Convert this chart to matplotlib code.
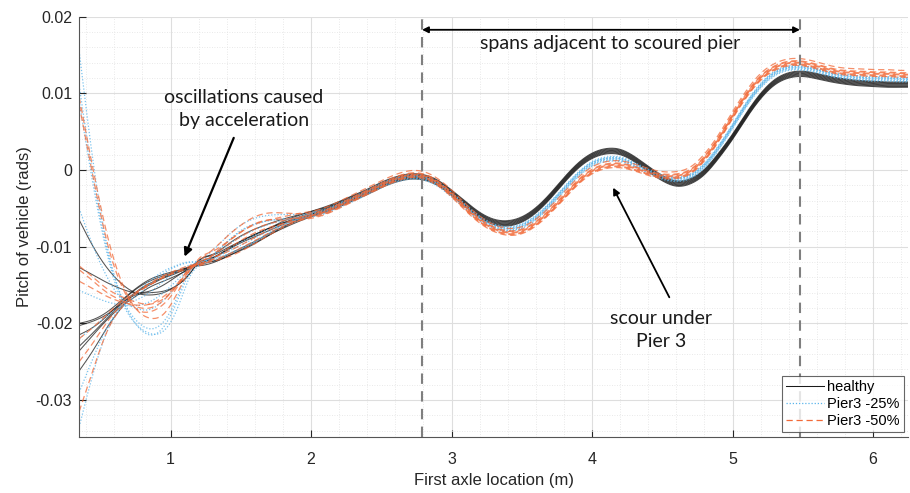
import numpy as np
import matplotlib
matplotlib.use("Agg")
import matplotlib.pyplot as plt
from matplotlib.ticker import MultipleLocator

# knot positions (m)
x_start = [0.35, 0.45, 0.55, 0.65, 0.75, 0.85, 0.95, 1.05, 1.15]
x_main = list(np.round(np.arange(1.2, 6.21, 0.1), 2)) + [6.25]
n_mid = 9  # knots 1.3 .. 2.1 where the runs still drift apart a little

# mean response along the bridge
healthy_main = [-0.0122, -0.0116, -0.0107, -0.0097, -0.0088, -0.0079, -0.0071, -0.0064,
                -0.0058, -0.0052, -0.0045, -0.0037, -0.0029, -0.0020, -0.0013, -0.0009,
                -0.0010, -0.0017, -0.0030, -0.0045, -0.0059, -0.0068, -0.0070, -0.0065,
                -0.0053, -0.0035, -0.0014, 0.0005, 0.0018, 0.0024, 0.0023, 0.0014,
                0.0001, -0.0011, -0.0018, -0.0015, -0.0003, 0.0018, 0.0043, 0.0071,
                0.0096, 0.0114, 0.0123, 0.0125, 0.0122, 0.0118, 0.0115, 0.0113,
                0.0112, 0.0111, 0.0111, 0.0111]
pier25_main = [-0.0122, -0.0115, -0.0105, -0.0095, -0.0086, -0.0077, -0.0070, -0.0064,
               -0.0059, -0.0054, -0.0046, -0.0038, -0.0029, -0.0020, -0.0013, -0.0009,
               -0.0010, -0.0018, -0.0032, -0.0048, -0.0063, -0.0073, -0.0077, -0.0073,
               -0.0062, -0.0045, -0.0025, -0.0006, 0.0008, 0.0014, 0.0014, 0.0007,
               -0.0002, -0.0009, -0.0012, -0.0008, 0.0006, 0.0029, 0.0057, 0.0086,
               0.0110, 0.0126, 0.0133, 0.0133, 0.0130, 0.0125, 0.0122, 0.0120,
               0.0119, 0.0119, 0.0118, 0.0118]
pier50_main = [-0.0122, -0.0114, -0.0104, -0.0093, -0.0083, -0.0075, -0.0069, -0.0064,
               -0.0060, -0.0055, -0.0047, -0.0038, -0.0029, -0.0020, -0.0012, -0.0007,
               -0.0008, -0.0017, -0.0032, -0.0050, -0.0066, -0.0077, -0.0082, -0.0080,
               -0.0070, -0.0054, -0.0035, -0.0016, -0.0002, 0.0005, 0.0006, 0.0002,
               -0.0004, -0.0008, -0.0008, -0.0002, 0.0015, 0.0040, 0.0070, 0.0098,
               0.0120, 0.0133, 0.0139, 0.0139, 0.0135, 0.0130, 0.0127, 0.0126,
               0.0125, 0.0125, 0.0124, 0.0124]

# start of each run (vehicle still accelerating)
healthy_start = [
    [-0.0065, -0.0100, -0.0128, -0.0148, -0.0160, -0.0163, -0.0160, -0.0150, -0.0132],
    [-0.0127, -0.0137, -0.0147, -0.0155, -0.0160, -0.0158, -0.0150, -0.0138, -0.0127],
    [-0.0200, -0.0195, -0.0185, -0.0170, -0.0155, -0.0143, -0.0136, -0.0131, -0.0125],
    [-0.0203, -0.0197, -0.0188, -0.0174, -0.0160, -0.0150, -0.0141, -0.0134, -0.0126],
    [-0.0215, -0.0205, -0.0190, -0.0172, -0.0156, -0.0145, -0.0138, -0.0132, -0.0125],
    [-0.0230, -0.0212, -0.0193, -0.0175, -0.0163, -0.0160, -0.0158, -0.0150, -0.0132],
    [-0.0236, -0.0215, -0.0195, -0.0178, -0.0165, -0.0153, -0.0145, -0.0137, -0.0128],
    [-0.0262, -0.0235, -0.0205, -0.0180, -0.0160, -0.0148, -0.0140, -0.0133, -0.0126],
]
pier25_start = [
    [0.0155, 0.0010, -0.0100, -0.0165, -0.0200, -0.0215, -0.0205, -0.0170, -0.0130],
    [0.0110, -0.0010, -0.0105, -0.0165, -0.0195, -0.0207, -0.0198, -0.0165, -0.0128],
    [-0.0050, -0.0100, -0.0140, -0.0168, -0.0180, -0.0182, -0.0170, -0.0148, -0.0127],
    [-0.0157, -0.0165, -0.0172, -0.0176, -0.0177, -0.0172, -0.0160, -0.0143, -0.0127],
    [-0.0335, -0.0265, -0.0210, -0.0180, -0.0165, -0.0150, -0.0135, -0.0125, -0.0120],
    [-0.0290, -0.0245, -0.0205, -0.0178, -0.0160, -0.0145, -0.0132, -0.0124, -0.0120],
    [0.0090, -0.0020, -0.0110, -0.0170, -0.0200, -0.0213, -0.0210, -0.0180, -0.0135],
    [-0.0220, -0.0205, -0.0190, -0.0178, -0.0170, -0.0160, -0.0145, -0.0132, -0.0123],
]
pier50_start = [
    [0.0095, 0.0000, -0.0085, -0.0145, -0.0180, -0.0193, -0.0188, -0.0160, -0.0128],
    [0.0085, -0.0010, -0.0095, -0.0150, -0.0180, -0.0185, -0.0175, -0.0152, -0.0126],
    [-0.0125, -0.0140, -0.0155, -0.0165, -0.0172, -0.0175, -0.0168, -0.0150, -0.0128],
    [-0.0145, -0.0155, -0.0165, -0.0172, -0.0176, -0.0175, -0.0165, -0.0148, -0.0127],
    [-0.0220, -0.0205, -0.0188, -0.0172, -0.0160, -0.0150, -0.0140, -0.0133, -0.0126],
    [-0.0250, -0.0225, -0.0198, -0.0176, -0.0160, -0.0148, -0.0138, -0.0130, -0.0124],
    [-0.0315, -0.0260, -0.0210, -0.0180, -0.0162, -0.0150, -0.0140, -0.0132, -0.0125],
    [-0.0130, -0.0145, -0.0160, -0.0170, -0.0178, -0.0180, -0.0170, -0.0150, -0.0128],
]

# drift of each run from the mean between 1.3 m and 2.1 m
healthy_mid = [
    [0.0003, 0.0006, 0.0008, 0.0008, 0.0006, 0.0004, 0.0002, 0.0001, 0.0],
    [0.0002, 0.0004, 0.0005, 0.0005, 0.0004, 0.0003, 0.0001, 0.0, 0.0],
    [0.0, 0.0001, 0.0002, 0.0002, 0.0001, 0.0, 0.0, 0.0, 0.0],
    [-0.0002, -0.0003, -0.0004, -0.0004, -0.0003, -0.0002, -0.0001, 0.0, 0.0],
    [0.0001, 0.0002, 0.0002, 0.0001, 0.0, 0.0, 0.0, 0.0, 0.0],
    [-0.0004, -0.0007, -0.0009, -0.0009, -0.0007, -0.0005, -0.0003, -0.0001, 0.0],
    [-0.0001, -0.0002, -0.0003, -0.0003, -0.0002, -0.0001, 0.0, 0.0, 0.0],
    [0.0001, 0.0001, 0.0, -0.0001, -0.0001, 0.0, 0.0, 0.0, 0.0],
]
pier25_mid = [
    [0.0008, 0.0016, 0.0021, 0.0021, 0.0016, 0.0010, 0.0004, 0.0001, 0.0],
    [0.0006, 0.0013, 0.0017, 0.0017, 0.0013, 0.0008, 0.0003, 0.0001, 0.0],
    [0.0002, 0.0005, 0.0007, 0.0007, 0.0005, 0.0003, 0.0001, 0.0, 0.0],
    [0.0, 0.0001, 0.0002, 0.0002, 0.0001, 0.0, 0.0, 0.0, 0.0],
    [-0.0004, -0.0008, -0.0010, -0.0010, -0.0008, -0.0005, -0.0002, 0.0, 0.0],
    [-0.0003, -0.0006, -0.0008, -0.0008, -0.0006, -0.0004, -0.0002, 0.0, 0.0],
    [0.0007, 0.0014, 0.0019, 0.0019, 0.0014, 0.0009, 0.0003, 0.0001, 0.0],
    [-0.0001, -0.0003, -0.0004, -0.0004, -0.0003, -0.0002, -0.0001, 0.0, 0.0],
]
pier50_mid = [
    [0.0007, 0.0014, 0.0018, 0.0019, 0.0016, 0.0010, 0.0004, 0.0001, 0.0],
    [0.0005, 0.0011, 0.0014, 0.0015, 0.0012, 0.0007, 0.0003, 0.0001, 0.0],
    [0.0002, 0.0004, 0.0005, 0.0005, 0.0004, 0.0002, 0.0001, 0.0, 0.0],
    [0.0001, 0.0003, 0.0004, 0.0004, 0.0003, 0.0002, 0.0001, 0.0, 0.0],
    [-0.0002, -0.0005, -0.0007, -0.0007, -0.0005, -0.0003, -0.0001, 0.0, 0.0],
    [-0.0003, -0.0007, -0.0009, -0.0009, -0.0007, -0.0004, -0.0002, 0.0, 0.0],
    [-0.0004, -0.0009, -0.0012, -0.0012, -0.0009, -0.0005, -0.0002, 0.0, 0.0],
    [0.0002, 0.0004, 0.0006, 0.0006, 0.0004, 0.0002, 0.0001, 0.0, 0.0],
]

# small constant spread between runs further along the bridge
healthy_offset = [0.0003, -0.0001, 0.0002, -0.0003, 0.0000, 0.0001, -0.0002, 0.0004]
pier25_offset = [0.0002, -0.0002, 0.0001, -0.0001, 0.0003, 0.0000, -0.0003, 0.0001]
pier50_offset = [0.0003, -0.0002, 0.0001, -0.0003, 0.0002, 0.0000, -0.0001, 0.0006]

span_start, span_end = 2.79, 5.48


def spline(xk, yk, xs):
    """natural cubic spline through the knots, only for drawing smooth lines"""
    xk = np.asarray(xk, float)
    yk = np.asarray(yk, float)
    n = len(xk)
    h = np.diff(xk)
    A = np.zeros((n, n))
    b = np.zeros(n)
    A[0, 0] = A[-1, -1] = 1
    for i in range(1, n - 1):
        A[i, i - 1] = h[i - 1]
        A[i, i] = 2 * (h[i - 1] + h[i])
        A[i, i + 1] = h[i]
        b[i] = 3 * ((yk[i + 1] - yk[i]) / h[i] - (yk[i] - yk[i - 1]) / h[i - 1])
    c = np.linalg.solve(A, b)
    j = np.clip(np.searchsorted(xk, xs) - 1, 0, n - 2)
    dx = xs - xk[j]
    bb = (yk[j + 1] - yk[j]) / h[j] - h[j] * (2 * c[j] + c[j + 1]) / 3
    d = (c[j + 1] - c[j]) / (3 * h[j])
    return yk[j] + bb * dx + c[j] * dx ** 2 + d * dx ** 3


plt.rcParams['font.family'] = ['Liberation Sans', 'DejaVu Sans']
fig = plt.figure(figsize=(9.1, 4.93), dpi=100)
ax = fig.add_axes([0.087, 0.114, 0.911, 0.852])

xs = np.linspace(0.35, 6.25, 1400)
series = [
    ("healthy", healthy_start, healthy_main, healthy_mid, healthy_offset,
     dict(color='#1a1a1a', lw=0.75, ls='-', alpha=0.75)),
    ("Pier3 -25%", pier25_start, pier25_main, pier25_mid, pier25_offset,
     dict(color='#5ab4ea', lw=0.9, ls=(0, (1, 1.5)), alpha=0.8)),
    ("Pier3 -50%", pier50_start, pier50_main, pier50_mid, pier50_offset,
     dict(color='#f26a38', lw=0.9, ls=(0, (5, 3)), alpha=0.75)),
]
for name, starts, main, mids, offs, style in series:
    for k, (st, mid, off) in enumerate(zip(starts, mids, offs)):
        drift = [0.0] + list(mid) + [0.0] * (len(main) - 1 - n_mid)
        xk = x_start + x_main
        yk = list(st) + [v + off + dv for v, dv in zip(main, drift)]
        ax.plot(xs, spline(xk, yk, xs), label=name if k == 0 else None, **style)

ax.set_xlim(0.35, 6.25)
ax.set_ylim(-0.0348, 0.02)
ax.xaxis.set_major_locator(MultipleLocator(1))
ax.xaxis.set_minor_locator(MultipleLocator(0.2))
ax.yaxis.set_minor_locator(MultipleLocator(0.002))
ax.set_yticks([-0.03, -0.02, -0.01, 0, 0.01, 0.02])
ax.set_yticklabels(['-0.03', '-0.02', '-0.01', '0', '0.01', '0.02'])
ax.grid(which='major', color='#dedede', lw=0.8)
ax.grid(which='minor', color='#e2e2e2', lw=0.6, ls=(0, (1, 2)))
ax.set_axisbelow(True)
for s in ['top', 'right']:
    ax.spines[s].set_visible(False)
for s in ['left', 'bottom']:
    ax.spines[s].set_color('#555555')
ax.tick_params(which='both', direction='in', colors='#262626', labelsize=11.5)
ax.tick_params(which='minor', length=0)
ax.tick_params(axis='x', which='major', length=5, pad=11)
ax.tick_params(axis='y', which='major', length=5, pad=5)
ax.set_xlabel('First axle location (m)', fontsize=12, color='#262626', labelpad=4)
ax.set_ylabel('Pitch of vehicle (rads)', fontsize=12, color='#262626', labelpad=3)

# span markers
for xv in (span_start, span_end):
    ax.axvline(xv, color='#7f7f7f', lw=1.5, ls=(0, (5, 3.5)))
ax.annotate('', xy=(span_start, 0.0183), xytext=(span_end, 0.0183),
            arrowprops=dict(arrowstyle='<|-|>', color='black', lw=1.3,
                            mutation_scale=9, shrinkA=0, shrinkB=0))
note = dict(family=['Lato', 'DejaVu Sans'], fontsize=14, color='#1a1a1a', ha='center', va='center')
ax.text(4.13, 0.0165, 'spans adjacent to scoured pier', **note)
ax.text(1.52, 0.0080, 'oscillations caused\nby acceleration', linespacing=1.45, **note)
ax.text(4.49, -0.0209, 'scour under\nPier 3', linespacing=1.45, **note)
ax.annotate('', xy=(1.10, -0.0113), xytext=(1.45, 0.0042),
            arrowprops=dict(arrowstyle='-|>', color='black', lw=1.6,
                            mutation_scale=12, shrinkA=0, shrinkB=0))
ax.annotate('', xy=(4.15, -0.0023), xytext=(4.55, -0.0166),
            arrowprops=dict(arrowstyle='-|>', color='black', lw=1.3,
                            mutation_scale=10, shrinkA=0, shrinkB=0))

leg = ax.legend(loc='lower right', fontsize=10.5, frameon=True, fancybox=False,
                handlelength=2.6, handletextpad=0.2, borderpad=0.3, labelspacing=0.2,
                borderaxespad=0.3)
leg.get_frame().set_edgecolor('#404040')
leg.get_frame().set_linewidth(0.8)
for h in leg.get_lines():
    h.set_alpha(1)

fig.savefig('out.png', dpi=100)
